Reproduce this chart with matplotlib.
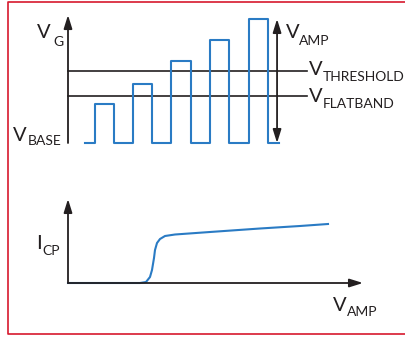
import numpy as np
import matplotlib.pyplot as plt
from matplotlib.lines import Line2D

# gate pulse train (top panel), V_G in volts vs time in pulse periods
pulse_rise = [0.70, 1.69, 2.68, 3.69, 4.70]
pulse_fall = [1.19, 2.18, 3.19, 4.18, 5.19]
pulse_amp = [1.57, 2.38, 3.31, 4.15, 5.00]
t_first, t_last = 0.44, 5.48
v_base = 0.0
v_flatband = 1.90
v_threshold = 2.90
v_amp_max = 5.00
t_amp_arrow = 5.43
t_levels_end = 6.21
v_axis_top = 5.16

# charge pumping current vs pulse amplitude (bottom panel)
v_sweep = [0.0, 1.44, 1.56, 1.64, 1.68, 1.72, 1.74, 1.78, 1.84, 1.94, 2.14, 2.84, 3.84, 4.64, 5.20]
i_cp = [0.0, 0.0, 0.1, 0.6, 1.3, 2.5, 3.3, 4.0, 4.4, 4.7, 4.85, 5.1, 5.45, 5.7, 5.9]
vamp_axis_end = 5.9
icp_axis_top = 8.4

W, H = 406, 345
dark = '#231f20'
blue = '#2a7bc4'
red = '#d7192d'
plt.rcParams['font.family'] = ['Lato', 'DejaVu Sans']

fig = plt.figure(figsize=(W / 100, H / 100), dpi=100)


def make_axes(x0, y0, sx, sy, top, bottom):
    # axes whose data origin sits at pixel (x0, y0), sx/sy pixels per unit
    ax = fig.add_axes([(x0 - 20) / W, (H - bottom) / H, (W - x0 + 20) / W, (bottom - top) / H])
    ax.set_xlim(-20 / sx, (W - x0) / sx)
    ax.set_ylim((y0 - bottom) / sy, (y0 - top) / sy)
    ax.axis('off')
    return ax


def arrow(ax, start, end, style='-|>'):
    ax.annotate('', xy=end, xytext=start,
                arrowprops=dict(arrowstyle=style + ',head_length=0.8,head_width=0.25',
                                mutation_scale=10, lw=1.3, color=dark,
                                shrinkA=0, shrinkB=0), annotation_clip=False)


def label(x, y, main, sub, xs, ys, size=14.5, subsize=10):
    fig.text(x / W, 1 - y / H, main, fontsize=size, color=dark, va='baseline')
    fig.text(xs / W, 1 - ys / H, sub, fontsize=subsize, color=dark, va='baseline')


# ---- top panel
ax1 = make_axes(68, 143, 38.5, 24.8, 0, 160)

t = [t_first]
v = [v_base]
for r, f, a in zip(pulse_rise, pulse_fall, pulse_amp):
    t += [r, r, f, f]
    v += [v_base, a, a, v_base]
t.append(t_last)
v.append(v_base)

ax1.plot([0, t_levels_end], [v_threshold, v_threshold], color=dark, lw=1.2)
ax1.plot([0, t_levels_end], [v_flatband, v_flatband], color=dark, lw=1.2)
ax1.plot(t, v, color=blue, lw=1.5, clip_on=False)
arrow(ax1, (0, v_base), (0, v_axis_top))
arrow(ax1, (t_amp_arrow, v_base), (t_amp_arrow, v_amp_max), style='<|-|>')

label(37, 38, 'V', 'G', 53, 46)
label(13, 141, 'V', 'BASE', 28, 145)
label(286, 38, 'V', 'AMP', 299, 45)
label(309, 75, 'V', 'THRESHOLD', 323, 81)
label(309, 102, 'V', 'FLATBAND', 323, 108)

# ---- bottom panel
ax2 = make_axes(68, 283, 50, 10, 165, 345)
ax2.plot(v_sweep, i_cp, color=blue, lw=1.5, clip_on=False, solid_joinstyle='round')
arrow(ax2, (0, 0), (vamp_axis_end, 0))
arrow(ax2, (0, 0), (0, icp_axis_top))

label(36, 249, 'I', 'CP', 42, 255)
label(333, 311, 'V', 'AMP', 347, 316)

# red frame: top, left and bottom only (right side runs off the picture)
fx = [W + 5, 8, 8, W + 5]
fy = [1.5, 1.5, 334, 334]
fig.lines.append(Line2D([x / W for x in fx], [1 - y / H for y in fy],
                        transform=fig.transFigure, color=red, lw=1.2))

fig.savefig('out.png', dpi=100)
